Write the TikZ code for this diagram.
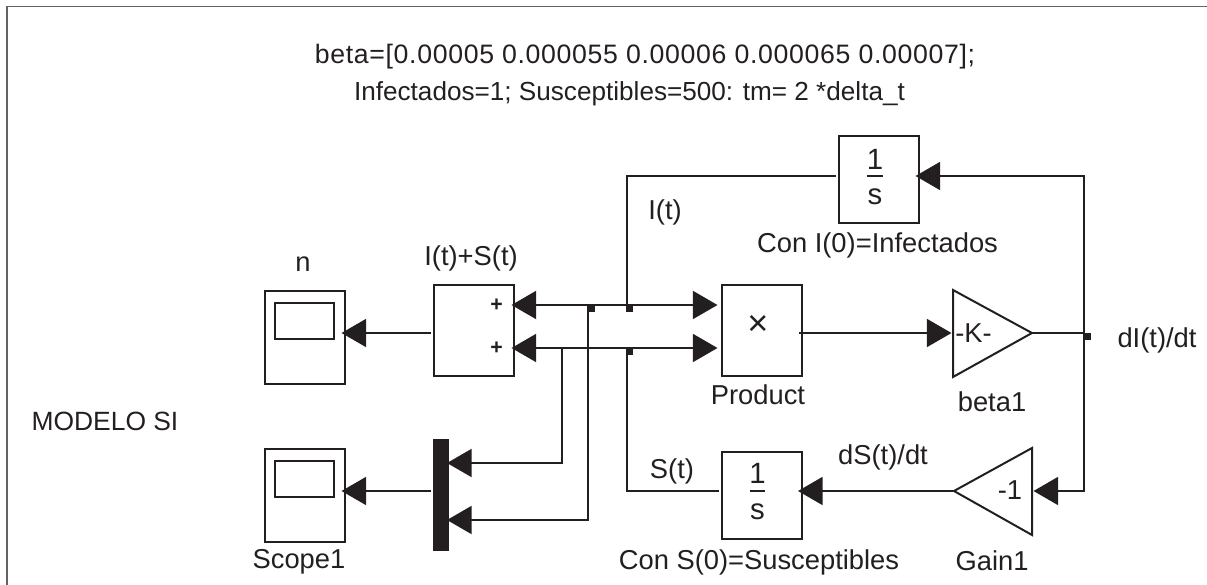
\documentclass[tikz,border=0pt]{standalone}
\usepackage{fontspec}
\setmainfont{Liberation Sans}
\usetikzlibrary{arrows.meta}
\definecolor{ink}{HTML}{231F20}
\tikzset{
  wire/.style={draw=ink,line width=1.5pt},
  sig/.style={wire,-{Triangle[length=18.5pt,width=21pt]}},
  blockbox/.style={draw=ink,line width=1.5pt,fill=white,rectangle,inner sep=0pt,anchor=north west},
  lbl/.style={text=ink,font=\fontsize{20.5}{24}\selectfont,inner sep=0pt},
  frac/.style={text=ink,font=\fontsize{22}{24}\selectfont,inner sep=0pt},
  dot/.style={fill=ink,draw=none,rectangle,inner sep=0pt,minimum width=5pt,minimum height=5pt,anchor=north west},
}
\begin{document}
\begin{tikzpicture}[x=0.75pt,y=-0.75pt]
\useasboundingbox (0,0) rectangle (1207,585);
\draw[ink!70,line width=1.3pt] (7,585) -- (7,6.5) -- (1207,6.5);
% Blocks
\node[blockbox,minimum width=60pt,minimum height=70pt] (scopeN) at (263.5,290) {};
\node[blockbox,minimum width=44pt,minimum height=27pt] (scopeNs) at (274,301.5) {};
\node[blockbox,minimum width=60pt,minimum height=68pt] (sum) at (433,284) {};
\node[blockbox,minimum width=60pt,minimum height=68pt] (prod) at (720.5,284) {};
\node[blockbox,minimum width=60pt,minimum height=65.5pt] (intI) at (837.5,135) {};
\node[blockbox,minimum width=60pt,minimum height=65.5pt] (intS) at (720.5,451) {};
\node[blockbox,minimum width=60pt,minimum height=70pt] (scopeB) at (263.5,448) {};
\node[blockbox,minimum width=44pt,minimum height=27pt] (scopeBs) at (274,459.5) {};
\node[fill=ink,draw=none,rectangle,inner sep=0pt,anchor=north west,minimum width=12pt,minimum height=83.5pt] (mux) at (432.5,439) {};
\path[draw=ink,line width=1.5pt,fill=white] (953,290) -- (1032,333) -- (953,377) -- cycle;
\path[draw=ink,line width=1.5pt,fill=white] (1032,448) -- (954,491) -- (1032,535) -- cycle;
% Named points
\coordinate (gainIn) at (951.5,333);
\coordinate (gainOut) at (1032,333);
\coordinate (g1In) at (1033.5,491);
\coordinate (g1Out) at (954,491);
\coordinate (jR) at (1084,333);
\coordinate (jRb) at (1084,491);
\coordinate (jRt) at (1084,176);
\coordinate (i1) at (627,176);
\coordinate (iJ) at (627,305);
\coordinate (sJ) at (627,348);
\coordinate (sB) at (627,491);
\coordinate (a) at (562,348);
\coordinate (aB) at (562,463);
\coordinate (b) at (588,305);
\coordinate (bB) at (588,520);
\coordinate (sumA) at (511.5,305);
\coordinate (sumB) at (511.5,348);
\coordinate (prodA) at (717.5,305);
\coordinate (prodB) at (717.5,348);
\coordinate (sumOut) at (431,333);
\coordinate (scopeNin) at (341.5,333);
\coordinate (muxOut) at (431,491);
\coordinate (scopeBin) at (341.5,491);
\coordinate (muxA) at (447,463);
\coordinate (muxB) at (447,520);
\coordinate (prodOut) at (799,333);
\coordinate (intIr) at (915.5,176);
\coordinate (intIl) at (836,176);
\coordinate (intSr) at (798,491);
\coordinate (intSl) at (719,491);
% Connectors
\draw[sig] (sumOut) -- (scopeNin);
\draw[sig] (muxOut) -- (scopeBin);
\draw[sig] (iJ) -- (sumA);
\draw[sig] (iJ) -- (prodA);
\draw[sig] (sJ) -- (sumB);
\draw[sig] (sJ) -- (prodB);
\draw[wire] (intIl) -- (i1) -- (iJ);
\draw[wire] (intSl) -- (sB) -- (sJ);
\draw[sig] (a) -- (aB) -- (muxA);
\draw[sig] (b) -- (bB) -- (muxB);
\draw[sig] (prodOut) -- (gainIn);
\draw[wire] (gainOut) -- (jR);
\draw[sig] (jR) -- (jRt) -- (intIr);
\draw[sig] (jR) -- (jRb) -- (g1In);
\draw[sig] (g1Out) -- (intSr);
% Junction dots
\node[dot] (d1) at (588,305) {};
\node[dot] (d2) at (626,305) {};
\node[dot] (d3) at (626,348) {};
\node[dot] (d4) at (1084,333) {};
% Block text
\node[text=ink,font=\bfseries\fontsize{16}{16}\selectfont,inner sep=0pt] (p1) at (496.5,305) {+};
\node[text=ink,font=\bfseries\fontsize{16}{16}\selectfont,inner sep=0pt] (p2) at (496.5,348) {+};
\node[text=ink,font=\fontsize{27}{27}\selectfont,inner sep=0pt] (times) at (758,325) {×};
\node[lbl] (k) at (973.5,333) {-K-};
\node[lbl] (m1) at (1010,490) {-1};
\node[frac] (n1) at (875,159) {1};
\draw[wire] (867,176) -- (883,176);
\node[frac] (s1) at (875,197) {s};
\node[frac] (n2) at (757.5,473) {1};
\draw[wire] (750,491) -- (765,491);
\node[frac] (s2) at (757.5,512) {s};
% Labels
\node[lbl,font=\fontsize{20}{24}\selectfont\addfontfeature{LetterSpace=2.5}] (t1) at (645,57) {beta=[0.00005 0.000055 0.00006 0.000065 0.00007];};
\node[lbl,font=\fontsize{19.6}{24}\selectfont] (t2) at (629.5,94) {Infectados=1; Susceptibles=500: tm= 2 *delta\_t};
\node[lbl] (l1) at (665,212) {I(t)};
\node[lbl] (l2) at (877.5,245) {Con I(0)=Infectados};
\node[lbl] (l3) at (303,264) {n};
\node[lbl] (l4) at (471,258) {I(t)+S(t)};
\node[lbl] (l5) at (758,395) {Product};
\node[lbl] (l6) at (992,402) {beta1};
\node[lbl] (l7) at (1157,340) {dI(t)/dt};
\node[lbl,font=\fontsize{19.8}{24}\selectfont] (l8) at (105,421) {MODELO SI};
\node[lbl] (l9) at (672,471) {S(t)};
\node[lbl] (l10) at (883,457) {dS(t)/dt};
\node[lbl] (l11) at (759,562) {Con S(0)=Susceptibles};
\node[lbl] (l12) at (992,561) {Gain1};
\node[lbl] (l13) at (299,562) {Scope1};
\end{tikzpicture}
\end{document}
